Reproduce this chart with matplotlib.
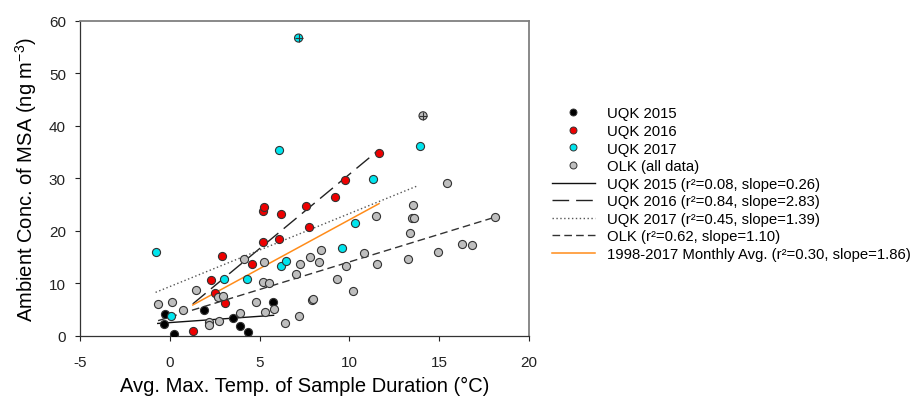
import matplotlib
matplotlib.use("Agg")
import matplotlib.pyplot as plt
import numpy as np
from matplotlib.lines import Line2D

plt.rcParams['font.family'] = ['Liberation Sans', 'DejaVu Sans']
plt.rcParams['mathtext.fontset'] = 'custom'
plt.rcParams['mathtext.rm'] = 'Liberation Sans'
plt.rcParams['mathtext.it'] = 'Liberation Sans'
plt.rcParams['axes.unicode_minus'] = False

# ---- data ----
black_x = [-0.28, -0.33, 0.22, 1.89, 3.52, 3.91, 4.33, 5.74]
black_y = [4.2, 2.3, 0.4, 5.0, 3.4, 1.9, 0.8, 6.5]

red_x = [1.28, 2.28, 2.52, 3.06, 2.93, 4.58, 5.20, 6.10, 5.17, 5.24, 6.17, 7.56, 7.76, 9.20, 9.74, 11.67]
red_y = [1.0, 10.6, 8.1, 6.3, 15.3, 13.7, 17.8, 18.4, 23.7, 24.5, 23.3, 24.7, 20.7, 26.5, 29.7, 34.9]

cyan_x = [-0.79, 0.07, 3.02, 4.28, 6.20, 6.45, 6.06, 9.60, 10.30, 11.32, 13.95]
cyan_y = [15.9, 3.9, 10.8, 10.8, 13.4, 14.2, 35.4, 16.7, 21.5, 29.8, 36.1]

gray_x = [-0.65, 0.14, 0.74, 1.47, 2.20, 2.20, 2.72, 2.71, 2.97, 3.93, 4.15, 4.82, 5.20, 5.54,
          5.25, 5.32, 5.78, 6.42, 7.02, 7.20, 7.27, 7.82, 7.92, 7.96, 8.28, 8.41, 9.33, 9.83,
          10.20, 10.80, 11.54, 11.48, 13.28, 13.35, 13.50, 13.60, 13.56, 14.95, 15.43, 16.26,
          16.80, 18.13]
gray_y = [6.1, 6.4, 4.9, 8.7, 2.6, 2.15, 2.8, 7.5, 7.7, 4.35, 14.7, 6.4, 10.3, 10.1,
          14.1, 4.6, 5.2, 2.5, 11.8, 3.9, 13.7, 15.0, 6.9, 7.0, 14.0, 16.3, 10.9, 13.4,
          8.6, 15.7, 13.7, 22.9, 14.6, 19.6, 22.4, 22.4, 25.0, 16.0, 29.2, 17.6,
          17.4, 22.7]

outlier_x = [7.17, 14.10]
outlier_y = [56.7, 41.9]
outlier_c = ['#00E5EE', '#BEBEBE']

fit_labels = ['UQK 2015 (r²=0.08, slope=0.26)',
              'UQK 2016 (r²=0.84, slope=2.83)',
              'UQK 2017 (r²=0.45, slope=1.39)',
              'OLK (r²=0.62, slope=1.10)',
              '1998-2017 Monthly Avg. (r²=0.30, slope=1.86)']
fit_slope = [0.24, 2.83, 1.39, 1.05, 1.86]
fit_icpt = [2.55, 2.48, 9.40, 3.60, 3.52]
fit_x0 = [-0.67, 1.28, -0.79, -0.65, 1.28]
fit_x1 = [5.78, 11.67, 13.84, 18.15, 11.65]

scatter_labels = ['UQK 2015', 'UQK 2016', 'UQK 2017', 'OLK (all data)']

# ---- figure ----
fig = plt.figure(figsize=(9.17, 4.02), dpi=100)
ax = fig.add_axes([0.0872, 0.1617, 0.4897, 0.7843])

line_styles = [
    dict(color='#111111', lw=1.0, ls='-'),
    dict(color='#222222', lw=1.0, ls=(0, (12, 5))),
    dict(color='#555555', lw=1.0, ls=(0, (1, 1.8))),
    dict(color='#333333', lw=1.0, ls=(0, (5.5, 3))),
    dict(color='#FF8C1A', lw=1.1, ls='-'),
]
line_handles = []
for i in range(5):
    xs = np.array([fit_x0[i], fit_x1[i]])
    ys = fit_slope[i] * xs + fit_icpt[i]
    h, = ax.plot(xs, ys, zorder=2, **line_styles[i])
    line_handles.append(h)

ms = 34
ec = '#333333'
ax.scatter(black_x, black_y, s=ms, c='black', edgecolors=ec, linewidths=0.8, zorder=3)
ax.scatter(red_x, red_y, s=ms, c='#EE0000', edgecolors=ec, linewidths=0.8, zorder=3)
ax.scatter(cyan_x, cyan_y, s=ms, c='#00E5EE', edgecolors=ec, linewidths=0.8, zorder=3)
ax.scatter(gray_x, gray_y, s=ms, c='#BEBEBE', edgecolors=ec, linewidths=0.8, zorder=3)
ax.scatter(outlier_x, outlier_y, s=ms, c=outlier_c, edgecolors=ec, linewidths=0.8, zorder=3)
ax.scatter(outlier_x, outlier_y, s=ms, marker='+', c=ec, linewidths=0.8, zorder=4)

ax.set_xlim(-5, 20)
ax.set_ylim(0, 60)
ax.set_xticks([-5, 0, 5, 10, 15, 20])
ax.set_yticks([0, 10, 20, 30, 40, 50, 60])
ax.tick_params(direction='out', length=3.6, width=0.8, labelsize=11, colors='#222222')
ax.tick_params(axis='x', pad=10)
ax.tick_params(axis='y', pad=6.5)
for s in ['left', 'bottom']:
    ax.spines[s].set_color('#333333')
    ax.spines[s].set_linewidth(0.9)
for s in ['top', 'right']:
    ax.spines[s].set_color('#808080')
    ax.spines[s].set_linewidth(1.3)

ax.set_xlabel('Avg. Max. Temp. of Sample Duration (°C)', fontsize=14.5, labelpad=5)
ax.set_ylabel('Ambient Conc. of MSA (ng m$\\mathregular{^{-3}}$)', fontsize=14.5, labelpad=7)

scat_colors = ['black', '#EE0000', '#00E5EE', '#BEBEBE']
scat_handles = [Line2D([], [], ls='none', marker='o', markersize=5, markerfacecolor=c,
                       markeredgecolor=ec, markeredgewidth=0.7) for c in scat_colors]

fig.legend(scat_handles + line_handles, scatter_labels + fit_labels,
           loc='upper left', bbox_to_anchor=(0.6016, 0.7326), frameon=False,
           fontsize=10.7, handlelength=2.9, handletextpad=0.85, labelspacing=0.24,
           borderaxespad=0, borderpad=0)

fig.savefig('out.png', dpi=100)
